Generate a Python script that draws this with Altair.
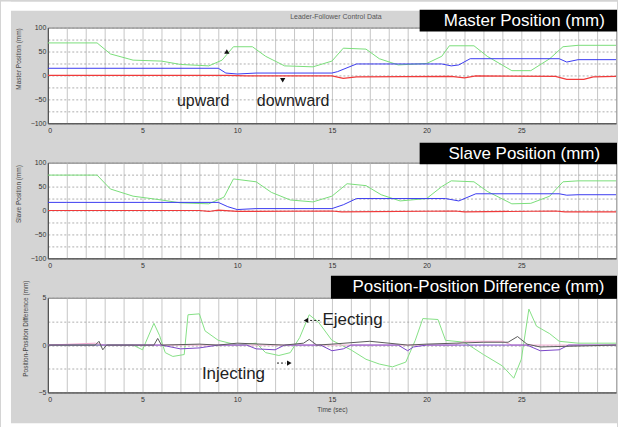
import altair as alt
import pandas as pd

# ---------------- data ----------------
# Panel 1: Master position (mm)
m_green_t = [0, 2.6, 3.3, 4.5, 6, 7, 8.5, 9.2, 9.8, 10.8, 11.5, 12.5, 14, 15, 15.6, 16.8, 17.5, 18.5, 20, 20.8, 21.2, 22.5, 23.2, 24.5, 25.5, 26.5, 27.2, 28, 30]
m_green_v = [68, 68, 45, 32, 30, 23, 20, 32, 60, 60, 40, 20, 18, 30, 57, 55, 35, 22, 25, 40, 62, 62, 40, 10, 10, 35, 60, 63, 63]
m_blue_t = [0, 1, 9.0, 9.4, 10, 11, 15, 15.3, 16.3, 20.8, 21.3, 21.7, 22.3, 27, 27.4, 28, 30]
m_blue_v = [15, 15, 15, 5, 3, 5, 5, 8, 24, 24, 20, 22, 35, 35, 28, 33, 33]
m_red_t = [0, 9.5, 10.5, 15, 15.6, 16.3, 21.3, 22, 22.6, 26.8, 27.4, 28.3, 28.8, 30]
m_red_v = [0, 0, -1, -1, -6, -3, -2, -5, -1, -2, -8, -8, -3, -2]

# Panel 2: Slave position (mm)
s_green_t = [0, 2.6, 3.3, 4.5, 6, 7, 8.5, 9.3, 9.8, 11, 11.8, 12.8, 14, 15, 15.8, 16.8, 17.6, 18.6, 20, 20.8, 21.3, 22.5, 23.2, 24.5, 25.5, 26.5, 27.2, 28, 30]
s_green_v = [74, 74, 45, 30, 22, 16, 14, 28, 66, 60, 38, 22, 18, 30, 56, 52, 33, 20, 25, 50, 62, 60, 40, 14, 15, 30, 60, 62, 62]
s_blue_t = [0, 1, 9.0, 9.5, 10, 11, 15, 15.6, 16.3, 21, 21.7, 22.6, 27, 27.4, 28, 30]
s_blue_v = [17, 17, 17, 8, 2, 4, 4, 12, 25, 25, 20, 35, 35, 32, 33, 33]
s_red_t = [0, 8, 8.5, 9, 10, 15, 15.5, 21.5, 22, 26.8, 27.3, 30]
s_red_v = [0, 0, -2, 1, -2, -1, -3, -1, -3, -1, -3, -3]

# Panel 3: Position-position difference (mm)
d_green_t = [0, 4.5, 5.0, 5.6, 5.9, 6.2, 6.6, 7.2, 7.4, 8.0, 8.3, 9, 10, 11, 11.5, 12.2, 12.8, 13.3, 13.8, 14.3, 15, 16, 16.8, 17.5, 18.2, 18.9, 19.4, 19.8, 20.6, 21, 22, 23, 24, 24.6, 25.0, 25.4, 25.8, 26.5, 27, 28, 30]
d_green_v = [0, 0, -0.5, 2.3, 1.0, -0.8, -1.2, -1.0, 3.2, 3.3, 1.5, 0.5, 0, 0.2, -0.8, -1.1, -0.8, 0.8, 3.2, 2.4, 0.5, -0.5, -1.5, -2.0, -2.3, -1.8, 0.5, 2.8, 2.7, 0.5, 0.3, -1.0, -2.2, -3.5, -1.5, 3.8, 2.0, 1.2, 0.4, 0.2, 0.2]
d_dark_t = [0, 2.5, 2.7, 2.9, 3.1, 5.6, 5.8, 6.0, 8, 9, 10, 12.5, 13.5, 13.8, 14.2, 15, 17, 19, 20, 23, 24.3, 24.8, 25.3, 26, 30]
d_dark_v = [0, 0, 0.4, -0.5, 0, 0, 0.7, 0, 0.1, 0, 0.2, 0, 0.2, 0.6, 0, 0.1, 0.4, 0, 0.1, 0.3, 0.3, 0.9, 0.1, -0.2, 0]
d_purple_t = [0, 6, 7, 8, 9, 10.5, 11, 12, 12.5, 14.4, 15, 15.6, 16, 18.5, 19, 19.3, 20, 25.3, 26, 27, 27.5, 30]
d_purple_v = [0, 0, -0.4, -0.3, 0, 0, -0.4, -0.5, 0, 0, -0.6, -0.4, 0, 0, -0.6, -0.2, 0, 0, -0.6, -0.5, 0, 0]
d_pink_t = [0, 2.5, 3, 21.5, 22, 24, 24.5, 30]
d_pink_v = [0, 0.2, 0, 0, 0.4, 0.4, 0, 0]

FONT = "Liberation Sans"
BG = "#d4d4d4"
W = 570
GREEN, BLUE, RED = "#7ade7a", "#3b3bf0", "#f03a3a"


def series_df(ts, vs):
    return pd.DataFrame({"t": ts, "v": vs})


def x_enc(title=None):
    return alt.X(
        "t:Q",
        scale=alt.Scale(domain=[0, 30], nice=False, zero=False),
        axis=alt.Axis(
            values=list(range(0, 31)),
            labelExpr="datum.value % 5 == 0 && datum.value < 30 ? datum.label : ''",
            title=title,
            grid=True,
            gridColor="#b8b8b8",
            gridWidth=0.8,
            ticks=False,
            labelPadding=3,
            domainColor="#444",
            zindex=0,
        ),
    )


def y_enc(domain, values, step, title, title_y):
    return alt.Y(
        "v:Q",
        scale=alt.Scale(domain=domain, nice=False, zero=False),
        axis=alt.Axis(
            values=values,
            labelExpr=f"datum.value % {step} == 0 ? datum.label : ''",
            title=title,
            titleY=title_y,
            grid=True,
            gridColor="#9a9a9a",
            gridDash=[2, 2],
            gridWidth=0.8,
            ticks=False,
            labelPadding=2,
            titlePadding=9,
            domainColor="#444",
            zindex=0,
        ),
    )


def line(ts, vs, color, X, Y, width=1.0):
    return alt.Chart(series_df(ts, vs)).mark_line(
        strokeWidth=width, clip=True, color=color
    ).encode(x=X, y=Y)


one = pd.DataFrame({"k": [0]})


def label_box(x1, x2, y1, y2, text, tx, ty, size):
    box = alt.Chart(one).mark_rect(color="black").encode(
        x=alt.value(x1), x2=alt.value(x2), y=alt.value(y1), y2=alt.value(y2)
    )
    txt = alt.Chart(one).mark_text(
        color="white", font=FONT, fontSize=size, align="center", baseline="middle"
    ).encode(x=alt.value(tx), y=alt.value(ty), text=alt.value(text))
    return [box, txt]


# ---------------- panel 1 ----------------
H1 = 96
X1 = x_enc()
Y1 = y_enc([-100, 100], list(range(-100, 101, 25)), 50, "Master Position (mm)", H1 / 2 - 17)
strip_left = alt.Chart(one).mark_rect(color="white").encode(
    x=alt.value(-47), x2=alt.value(-37), y=alt.value(-26), y2=alt.value(401)
)
strip_top = alt.Chart(one).mark_rect(color="white").encode(
    x=alt.value(-47), x2=alt.value(W + 1), y=alt.value(-26), y2=alt.value(-17)
)
fig_title = alt.Chart(one).mark_text(font=FONT, fontSize=7, color="#555", align="center", baseline="middle").encode(
    x=alt.value(289), y=alt.value(-11), text=alt.value("Leader-Follower Control Data")
)
ann1_text = pd.DataFrame({"t": [8.2, 12.95], "v": [-54, -54], "label": ["upward", "downward"]})
ann1 = alt.Chart(ann1_text).mark_text(font=FONT, fontSize=16, color="#222", baseline="middle", align="center").encode(
    x=X1, y=Y1, text="label:N"
)
arr1 = pd.DataFrame({"t": [9.45, 12.4], "v": [50, -10], "shape": ["triangle-up", "triangle-down"]})
arrows1 = alt.Chart(arr1).mark_point(filled=True, size=28, color="#111", opacity=1).encode(
    x=X1, y=Y1, shape=alt.Shape("shape:N", scale=None)
)
p1 = alt.layer(
    strip_left, strip_top, fig_title,
    *label_box(373, W + 1, -18, 4, "Master Position (mm)", 478, -7, 17),
    line(m_green_t, m_green_v, GREEN, X1, Y1),
    line(m_blue_t, m_blue_v, BLUE, X1, Y1),
    line(m_red_t, m_red_v, RED, X1, Y1, 1.2),
    ann1, arrows1,
).properties(width=W, height=H1)

# ---------------- panel 2 ----------------
H2 = 96
X2 = x_enc()
Y2 = y_enc([-100, 100], list(range(-100, 101, 25)), 50, "Slave Position (mm)", H2 / 2 - 17)
p2 = alt.layer(
    *label_box(373, W + 1, -20, 1.5, "Slave Position (mm)", 478, -9, 17),
    line(s_green_t, s_green_v, GREEN, X2, Y2),
    line(s_blue_t, s_blue_v, BLUE, X2, Y2),
    line(s_red_t, s_red_v, RED, X2, Y2, 1.2),
).properties(width=W, height=H2)

# ---------------- panel 3 ----------------
H3 = 95
X3 = x_enc("Time (sec)")
Y3 = y_enc([-5, 5], [-5, -2.5, 0, 2.5, 5], 5, "Position-Position Difference (mm)", H3 / 2 - 17)
ann3_text = pd.DataFrame({"t": [14.5, 9.8], "v": [2.6, -3.05], "label": ["Ejecting", "Injecting"]})
ann3a = alt.Chart(ann3_text.iloc[[0]]).mark_text(font=FONT, fontSize=17, color="#222", baseline="middle", align="left").encode(
    x=X3, y=Y3, text="label:N"
)
ann3b = alt.Chart(ann3_text.iloc[[1]]).mark_text(font=FONT, fontSize=17, color="#222", baseline="middle", align="center").encode(
    x=X3, y=Y3, text="label:N"
)
dash3 = pd.DataFrame({"t": [13.85, 12.1], "t2": [14.35, 12.55], "v": [2.6, -1.9]})
dashes3 = alt.Chart(dash3).mark_rule(color="#222", strokeDash=[2, 2], strokeWidth=1).encode(
    x=X3, x2="t2:Q", y=Y3
)
arr3 = pd.DataFrame({"t": [13.63, 12.75], "v": [2.6, -1.9], "shape": ["triangle-left", "triangle-right"]})
arrows3 = alt.Chart(arr3).mark_point(filled=True, size=28, color="#111", opacity=1).encode(
    x=X3, y=Y3, shape=alt.Shape("shape:N", scale=None)
)
strip_bottom = alt.Chart(one).mark_rect(color="white").encode(
    x=alt.value(-47), x2=alt.value(W + 1), y=alt.value(126), y2=alt.value(130)
)
p3 = alt.layer(
    strip_bottom,
    *label_box(284, W + 1, -22, 1, "Position-Position Difference (mm)", 432, -11, 17),
    line(d_green_t, d_green_v, "#86e086", X3, Y3),
    line(d_pink_t, d_pink_v, "#f0a8d0", X3, Y3),
    line(d_purple_t, d_purple_v, "#7a46c8", X3, Y3),
    line(d_dark_t, d_dark_v, "#5a5a5a", X3, Y3),
    dashes3, arrows3, ann3a, ann3b,
).properties(width=W, height=H3)

chart = alt.vconcat(p1, p2, p3, spacing=39.5, bounds="flush").properties(
    padding=0
).configure(background=BG).configure_view(
    stroke="#7a7a7a", fill="white"
).configure_axis(
    labelFont=FONT, labelFontSize=7, labelColor="#333",
    titleFont=FONT, titleFontSize=6.5, titleColor="#444", titleFontWeight="normal",
)

chart.save("out.html", embed_options={"renderer": "svg", "actions": False})
